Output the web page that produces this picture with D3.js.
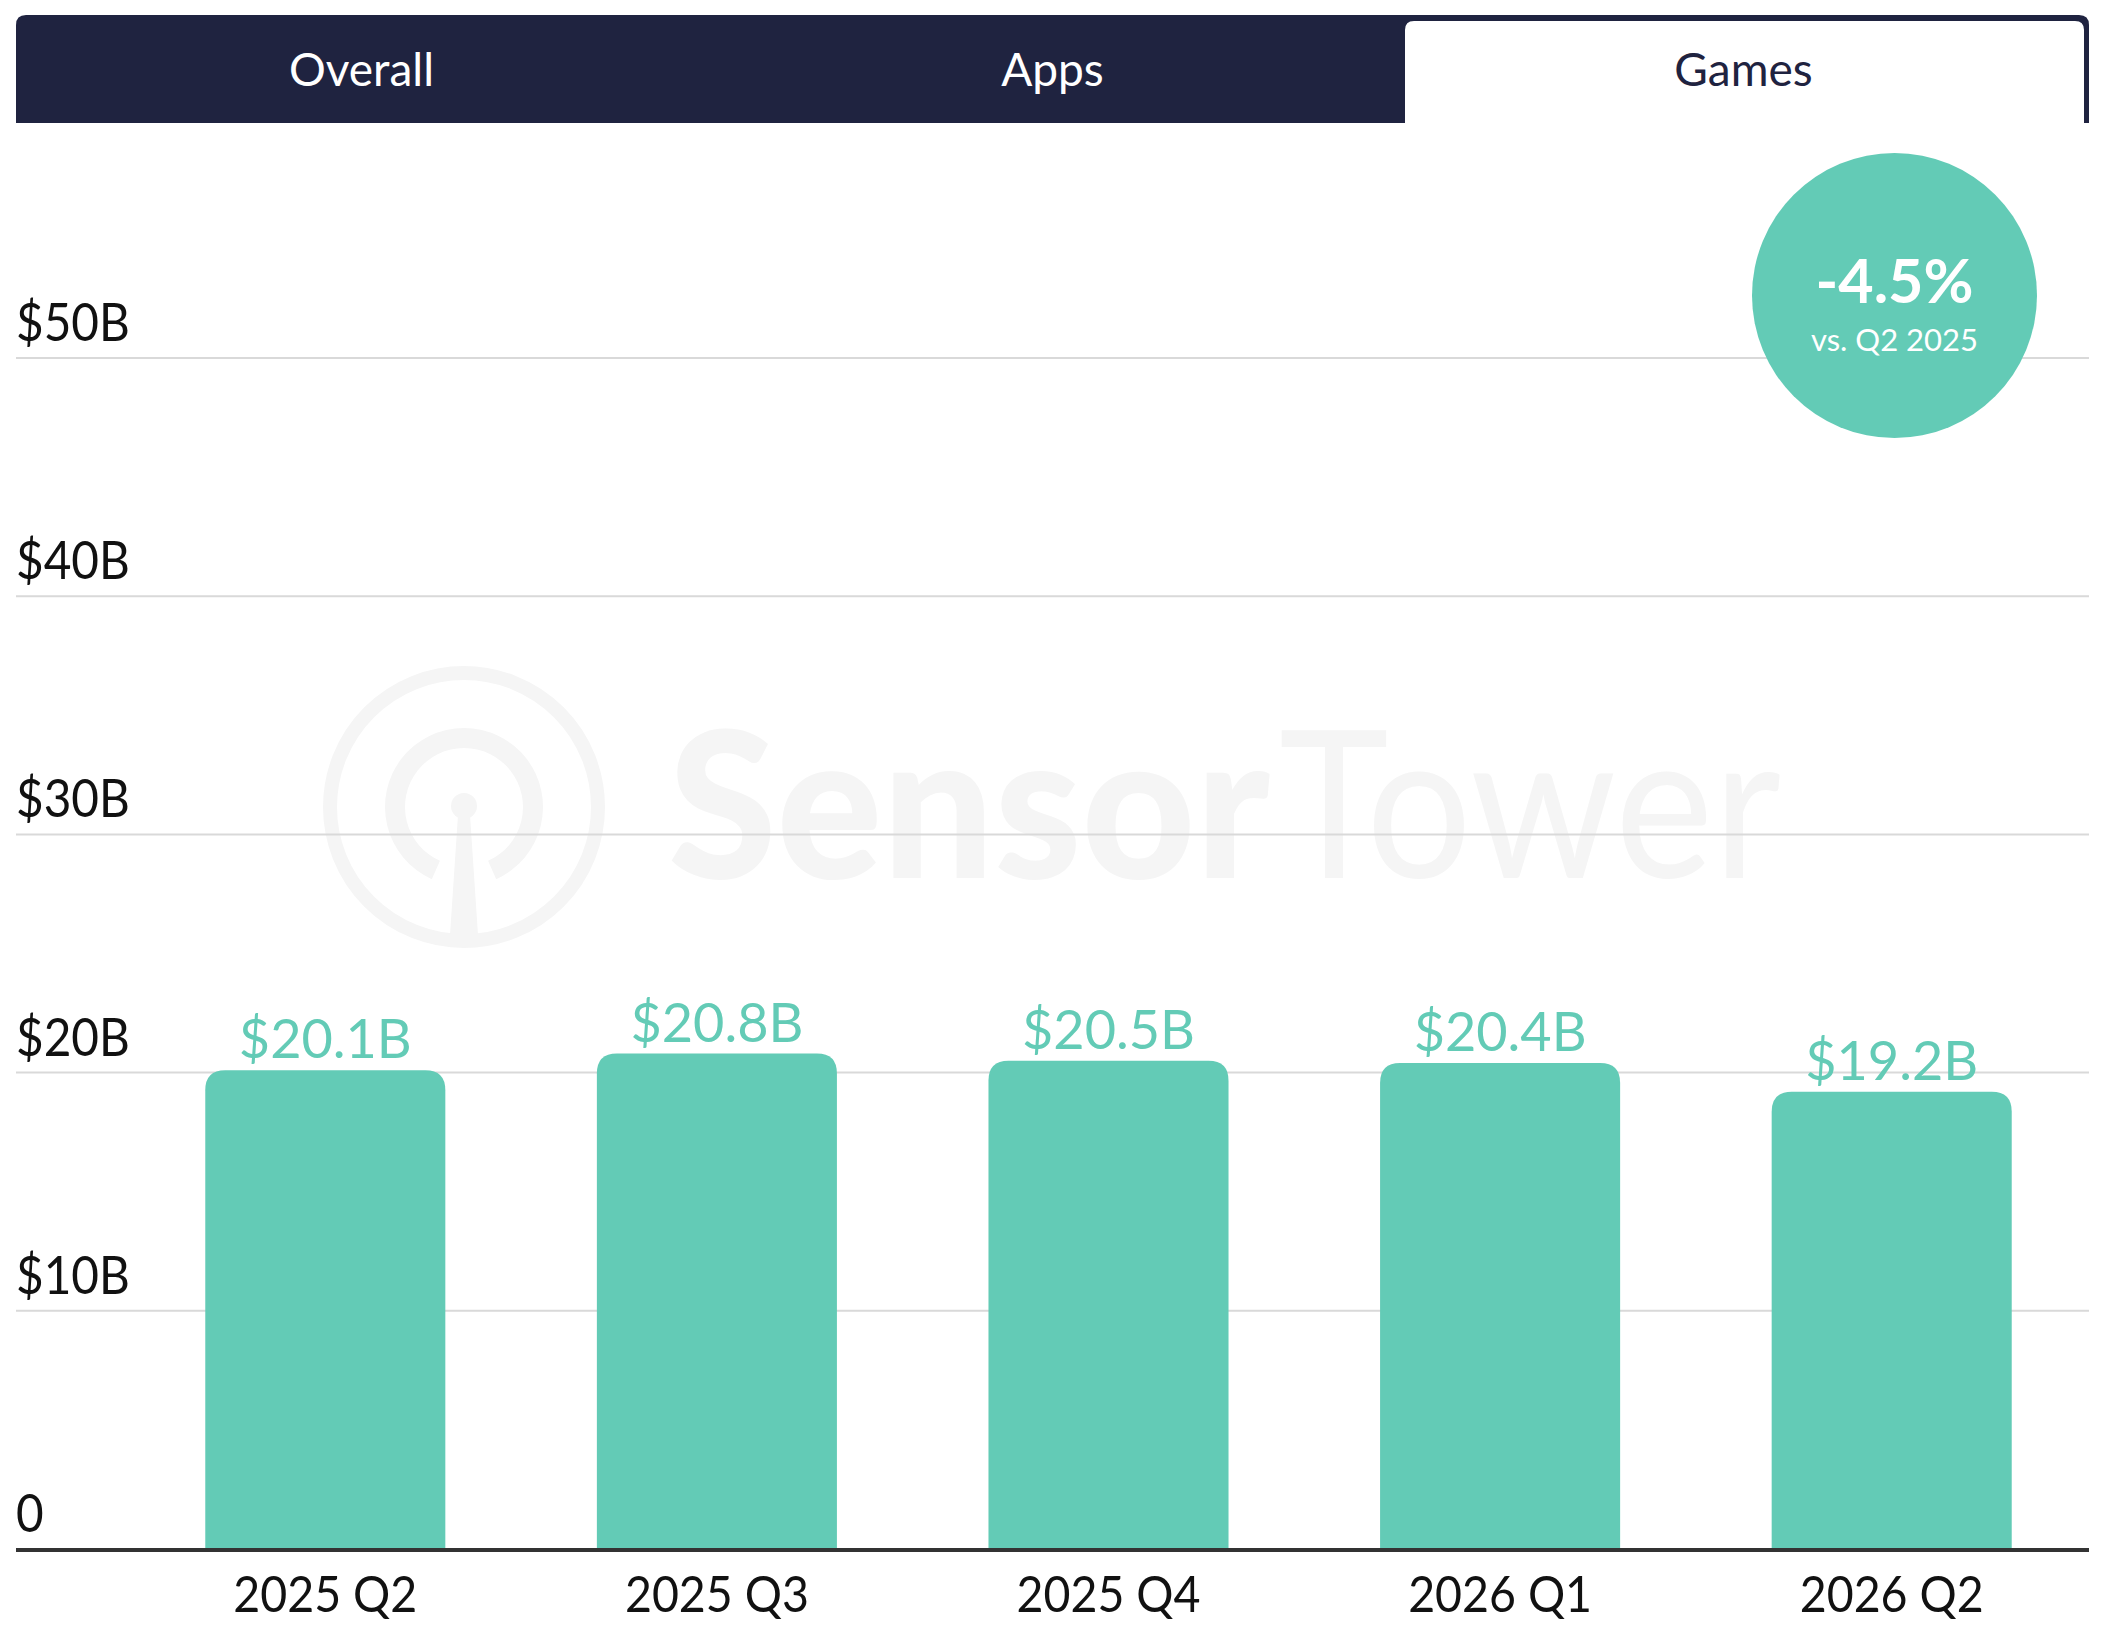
<!DOCTYPE html>
<html>
<head>
<meta charset="utf-8">
<script src="https://cdn.jsdelivr.net/npm/d3@7"></script>
<style>
  html, body { margin: 0; padding: 0; background: #ffffff; }
  svg { display: block; }
  text { font-family: "Lato", "Open Sans", sans-serif; }
</style>
</head>
<body>
<svg id="chart" width="2110" height="1648"></svg>
<script>
// ---- data ----
const tabs = ["Overall", "Apps", "Games"];
const activeTab = "Games";
const categories = ["2025 Q2", "2025 Q3", "2025 Q4", "2026 Q1", "2026 Q2"];
const values = [20.1, 20.8, 20.5, 20.4, 19.2];
const yTicks = [0, 10, 20, 30, 40, 50];
const yTickLabels = ["0", "$10B", "$20B", "$30B", "$40B", "$50B"];
const changeLabel = "-4.5%";
const changeSubLabel = "vs. Q2 2025";
const watermarkWords = ["Sensor", "Tower"];

// ---- styles ----
const NAVY = "#1f2340";
const TEAL = "#63cbb6";
const GRID = "#d9d9d9";
const WM = "#f5f5f5";

const W = 2110, H = 1648;
const left = 16, right = 2089;

const svg = d3.select("#chart");

// ---- tab bar ----
const tabX = d3.scaleBand().domain(tabs).range([left, right]);
function topRounded(x, y, w, h, r) {
  return `M${x},${y + h}V${y + r}Q${x},${y} ${x + r},${y}H${x + w - r}Q${x + w},${y} ${x + w},${y + r}V${y + h}Z`;
}
svg.append("path").attr("d", topRounded(left, 15, right - left, 108, 10)).attr("fill", NAVY);
svg.append("path")
  .attr("d", topRounded(tabX(activeTab) + 7, 21, tabX.bandwidth() - 12, 102, 9))
  .attr("fill", "#ffffff");
svg.selectAll("text.tab").data(tabs).join("text")
  .attr("class", "tab")
  .attr("x", d => tabX(d) + tabX.bandwidth() / 2)
  .attr("y", 86)
  .attr("text-anchor", "middle")
  .attr("font-size", 46)
  .attr("fill", d => d === activeTab ? NAVY : "#ffffff")
  .text(d => d);

// ---- scales ----
const x = d3.scaleBand().domain(categories).range([129.5, 2087.5]).paddingInner(0.387).paddingOuter(0.1935);
const y = d3.scaleLinear().domain([0, 50]).range([1549, 358]);

// ---- watermark ----
const wm = svg.append("g").attr("class", "watermark");
const lc = { x: 464, y: 807 };
wm.append("circle").attr("cx", lc.x).attr("cy", lc.y).attr("r", 134)
  .attr("fill", "none").attr("stroke", WM).attr("stroke-width", 14);
wm.append("path")
  .attr("transform", `translate(${lc.x},${lc.y})`)
  .attr("d", d3.arc()({ innerRadius: 59, outerRadius: 79, startAngle: Math.PI + 0.42, endAngle: 3 * Math.PI - 0.42 }))
  .attr("fill", WM);
wm.append("circle").attr("cx", lc.x).attr("cy", lc.y - 1).attr("r", 13).attr("fill", WM);
wm.append("path")
  .attr("d", `M${lc.x - 6},${lc.y + 8}L${lc.x + 6},${lc.y + 8}L${lc.x + 14},${lc.y + 128}L${lc.x - 14},${lc.y + 128}Z`)
  .attr("fill", WM);
wm.append("text").attr("x", 668).attr("y", 878)
  .attr("font-size", 205).attr("font-weight", 900).attr("fill", WM)
  .attr("textLength", 602).attr("lengthAdjust", "spacingAndGlyphs")
  .text(watermarkWords[0]);
wm.append("text").attr("x", 1279).attr("y", 878)
  .attr("font-size", 205).attr("font-weight", 400).attr("fill", WM)
  .attr("textLength", 502).attr("lengthAdjust", "spacingAndGlyphs")
  .text(watermarkWords[1]);

// ---- gridlines ----
svg.append("g").selectAll("line").data(yTicks.filter(d => d !== 0)).join("line")
  .attr("x1", left).attr("x2", right)
  .attr("y1", d => y(d)).attr("y2", d => y(d))
  .attr("stroke", GRID).attr("stroke-width", 2);

// ---- y tick labels ----
svg.append("g").selectAll("text").data(yTicks).join("text")
  .attr("transform", d => `translate(${left},${y(d) - 17}) scale(0.9,1)`)
  .attr("font-size", 53)
  .attr("fill", "#111111")
  .text((d, i) => yTickLabels[i]);

// ---- bars ----
const data = categories.map((c, i) => ({ c, v: values[i] }));
const r = 20;
svg.append("g").selectAll("path").data(data).join("path")
  .attr("d", d => {
    const x0 = x(d.c), w = x.bandwidth(), y0 = y(d.v), y1 = y(0);
    return `M${x0},${y1}V${y0 + r}Q${x0},${y0} ${x0 + r},${y0}H${x0 + w - r}Q${x0 + w},${y0} ${x0 + w},${y0 + r}V${y1}Z`;
  })
  .attr("fill", TEAL);

// ---- value labels ----
svg.append("g").selectAll("text").data(data).join("text")
  .attr("transform", d => `translate(${x(d.c) + x.bandwidth() / 2},${y(d.v) - 12}) scale(1,1)`)
  .attr("text-anchor", "middle")
  .attr("font-size", 54)
  .attr("fill", TEAL)
  .text(d => `$${d.v.toFixed(1)}B`);

// ---- x axis ----
svg.append("line")
  .attr("x1", left).attr("x2", right)
  .attr("y1", y(0) + 1).attr("y2", y(0) + 1)
  .attr("stroke", "#333333").attr("stroke-width", 4);
svg.append("g").selectAll("text").data(categories).join("text")
  .attr("transform", d => `translate(${x(d) + x.bandwidth() / 2},1612) scale(0.93,1)`)
  .attr("text-anchor", "middle")
  .attr("font-size", 50)
  .attr("fill", "#111111")
  .text(d => d);

// ---- change badge ----
const badge = svg.append("g").attr("transform", "translate(1894.5,295.5)");
badge.append("circle").attr("r", 142.5).attr("fill", TEAL);
badge.append("text").attr("y", 7).attr("text-anchor", "middle")
  .attr("font-size", 61).attr("font-weight", 700).attr("fill", "#ffffff")
  .text(changeLabel);
badge.append("text").attr("y", 55).attr("text-anchor", "middle")
  .attr("font-size", 31).attr("fill", "#ffffff")
  .text(changeSubLabel);
</script>
</body>
</html>
